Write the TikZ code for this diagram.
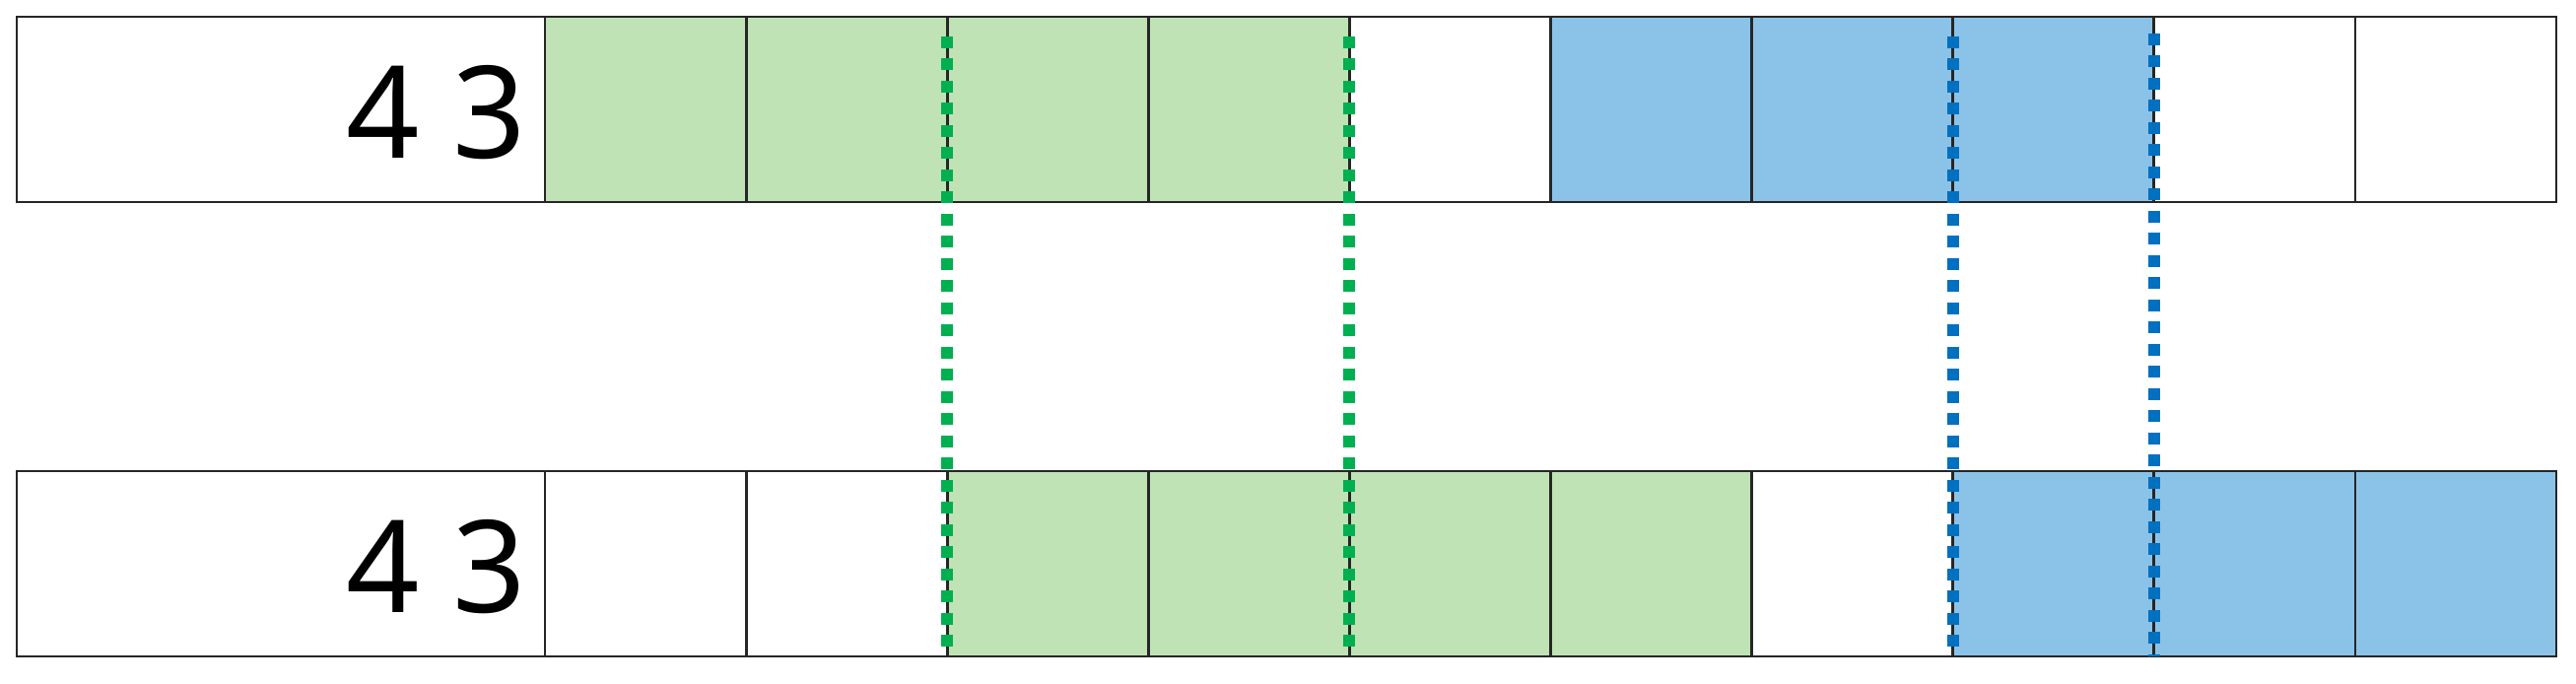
\documentclass[tikz,border=0pt]{standalone}
\usepackage{fontspec}
\setmainfont{Noto Sans}
\usetikzlibrary{positioning}
\definecolor{cellgreen}{RGB}{191,227,180}
\definecolor{cellblue}{RGB}{139,195,232}
\definecolor{dotgreen}{RGB}{0,176,80}
\definecolor{dotblue}{RGB}{0,112,192}
\begin{document}
\begin{tikzpicture}
	    \tikzset{
	      cell/.style={draw=black!85, line width=0.8pt, minimum width=2.041cm, minimum height=1.88cm, inner sep=0pt, outer sep=0pt, anchor=north west},
	      headcell/.style={cell, minimum width=5.36cm},
	      g/.style={cell, fill=cellgreen},
	      b/.style={cell, fill=cellblue},
	      w/.style={cell, fill=white},
	      digits/.style={font=\fontsize{37}{37}\selectfont, anchor=east, inner sep=0pt},
	      gdots/.style={draw=dotgreen, line width=3.4pt, dash pattern=on 3.4pt off 3pt},
	      bdots/.style={draw=dotblue, line width=3.4pt, dash pattern=on 3.4pt off 3pt}
	    }
	    \useasboundingbox (0,0) rectangle (26.14,6.94);
	    % top row
	    \node [headcell] (t) at (0.17,6.77) {};
	    \node [digits] (tnum) at ([xshift=-0.18cm,yshift=-0.03cm]t.east) {4 3};
	    \foreach \s [count=\i from 0] in {g,g,g,g,w,b,b,b,w,w}
	      \node [\s] (t\i) at ({5.53+\i*2.041},6.77) {};
	    % bottom row
	    \node [headcell] (u) at (0.17,2.16) {};
	    \node [digits] (unum) at ([xshift=-0.18cm,yshift=-0.03cm]u.east) {4 3};
	    \foreach \s [count=\i from 0] in {w,w,g,g,g,g,w,b,b,b}
	      \node [\s] (u\i) at ({5.53+\i*2.041},2.16) {};
	    % dotted guides
	    \draw [gdots] ([yshift=-0.2cm]t2.north west) -- (u2.south west);
	    \draw [gdots] ([yshift=-0.2cm]t4.north west) -- (u4.south west);
	    \draw [bdots] ([yshift=-0.2cm]t7.north west) -- (u7.south west);
	    \draw [bdots] ([yshift=-0.17cm]t8.north west) -- (u8.south west);
\end{tikzpicture}
\end{document}
